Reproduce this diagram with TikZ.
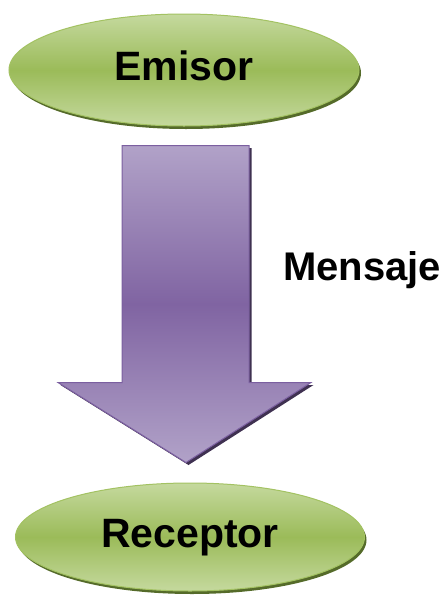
\documentclass[tikz,border=0pt]{standalone}
\usepackage{fontspec}
\setmainfont{Liberation Sans}
\usepackage{tikz}
\usepackage{xcolor}
\usetikzlibrary{shapes.geometric,shadows,calc}
\definecolor{olivelight}{HTML}{C5D99E}
\definecolor{olivemid}{HTML}{9BBB59}
\definecolor{oliveedge}{HTML}{A3C262}
\definecolor{olivedark}{HTML}{556B2A}
\definecolor{violetlight}{HTML}{B1A2C8}
\definecolor{violetmid}{HTML}{8064A2}
\definecolor{violetedge}{HTML}{7B5FA0}
\definecolor{violetdark}{HTML}{3F3151}

\begin{document}
\begin{tikzpicture}[x=1pt, y=1pt,
  party/.style={ellipse, draw=oliveedge, line width=1pt, inner sep=0pt,
    top color=olivelight, bottom color=olivelight, middle color=olivemid,
    drop shadow={shadow xshift=2pt, shadow yshift=-3pt, fill=olivedark, opacity=1},
    font=\bfseries\fontsize{41}{41}\selectfont, text height=30pt, text depth=9pt},
  msgarrow/.style={draw=violetedge, line width=1pt, line join=miter,
    top color=violetlight, bottom color=violetlight, middle color=violetmid,
    drop shadow={shadow xshift=2.5pt, shadow yshift=-2.5pt, fill=violetdark, opacity=1}},
  every node/.style={font=\bfseries\fontsize{41}{41}\selectfont}]
\useasboundingbox (0,0) rectangle (447,-595);
\node[party, minimum width=350pt, minimum height=112pt] (emisor) at (184,-70) {Emisor};
\node[party, minimum width=349pt, minimum height=108pt] (receptor) at (190,-537) {Receptor};
% block arrow between the two ellipses
\coordinate (top) at ($(emisor.south)+(2,-19)$);
\coordinate (tip) at ($(receptor.north)+(-4,20)$);
\path[msgarrow] ($(top)+(-64,0)$) -- ($(top)+(63,0)$) -- ($(tip)+(63,80)$)
  -- ($(tip)+(125,80)$) -- (tip) -- ($(tip)+(-128,80)$) -- ($(tip)+(-64,80)$) -- cycle;
\node[font=\bfseries\fontsize{40}{40}\selectfont, text height=29pt, text depth=9pt] (mensaje) at (362,-270) {Mensaje};
\end{tikzpicture}
\end{document}
